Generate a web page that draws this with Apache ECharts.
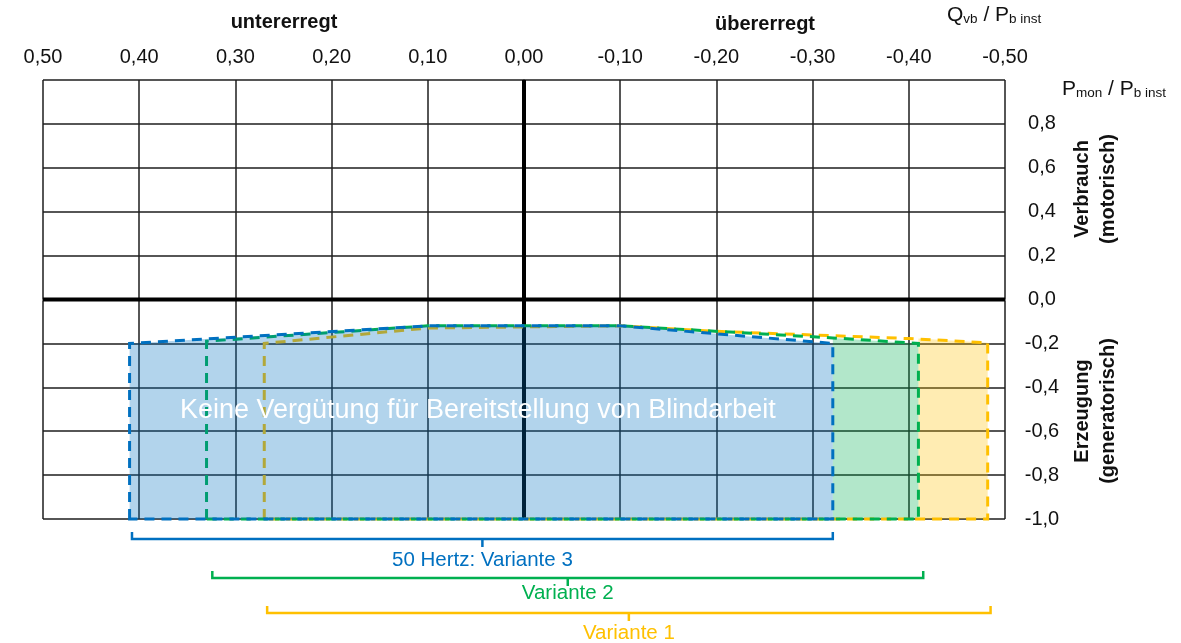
<!DOCTYPE html>
<html>
<head>
<meta charset="utf-8">
<script src="https://cdn.jsdelivr.net/npm/echarts@6/dist/echarts.min.js"></script>
<style>
html,body{margin:0;padding:0;background:#fff;}
#chart{width:1181px;height:643px;}
</style>
</head>
<body>
<div id="chart"></div>
<script>
// ---- data ----
const xTickLabels = ['0,50','0,40','0,30','0,20','0,10','0,00','-0,10','-0,20','-0,30','-0,40','-0,50'];
const yTickLabels = ['-1,0','-0,8','-0,6','-0,4','-0,2','0,0','0,2','0,4','0,6','0,8',''];

// outlines [Q, P]
const variante3 = [[0.41,-1],[0.41,-0.2],[0.10,-0.12],[-0.10,-0.12],[-0.321,-0.2],[-0.321,-1]];
const variante2 = [[0.33,-1],[0.33,-0.19],[0.10,-0.12],[-0.10,-0.12],[-0.321,-0.175],[-0.41,-0.2],[-0.41,-1]];
const variante1 = [[0.27,-1],[0.27,-0.2],[0.10,-0.13],[-0.10,-0.12],[-0.20,-0.145],[-0.32,-0.165],[-0.40,-0.178],[-0.482,-0.197],[-0.482,-1]];
// visible fill parts outside Variante 3
const variante2Fill = [[-0.321,-1],[-0.321,-0.175],[-0.41,-0.2],[-0.41,-1]];
const variante1Fill = [[-0.41,-1],[-0.41,-0.178],[-0.482,-0.197],[-0.482,-1]];

// bracket ranges [left Q, right Q]
const rangeNames = ['50 Hertz: Variante 3','Variante 2','Variante 1'];
const rangeValues = [[0.4075,-0.321],[0.324,-0.415],[0.267,-0.485]];

const areaText = 'Keine Vergütung für Bereitstellung von Blindarbeit';

// ---- styles ----
const FONT = 'Liberation Sans, Arial, sans-serif';
const C3 = '#0070C0', C2 = '#00B050', C1 = '#FFC000';
const rangeColors = [C3, C2, C1];
const bracketOffset = [20, 59, 94];   // px below bottom of plot
const labelOffset = [21, 15, 20];     // px below bracket line

function polySeries(points, style) {
  return {
    type: 'custom',
    coordinateSystem: 'cartesian2d',
    clip: false,
    silent: true,
    data: [[0, 0]],
    renderItem: function (params, api) {
      return {
        type: 'polygon',
        shape: { points: points.map(p => api.coord(p)) },
        style: style
      };
    }
  };
}

const dash = [10, 7];
const subRich = {
  m: { fontSize: 21, fontFamily: FONT, fill: '#111', color: '#111', lineHeight: 26, verticalAlign: 'bottom' },
  s: { fontSize: 13.5, fontFamily: FONT, fill: '#111', color: '#111', lineHeight: 14, verticalAlign: 'bottom' }
};

const option = {
  animation: false,
  backgroundColor: '#fff',
  grid: { left: 43, right: 176, top: 80, bottom: 124, containLabel: false },
  xAxis: {
    type: 'value', position: 'top', inverse: true,
    min: -0.5, max: 0.5, interval: 0.1,
    axisLine: { show: true, lineStyle: { color: '#bbbbbb', width: 1.5 } },
    axisTick: { show: false },
    splitLine: { show: true, lineStyle: { color: '#1e1e1e', width: 1.5 } },
    axisLabel: {
      margin: 13, fontSize: 20, color: '#111', fontFamily: FONT,
      formatter: v => xTickLabels[Math.round((0.5 - v) / 0.1)]
    }
  },
  yAxis: {
    type: 'value', position: 'right',
    min: -1, max: 1, interval: 0.2,
    axisLine: { show: true, lineStyle: { color: '#1e1e1e', width: 1.5 } },
    axisTick: { show: false },
    splitLine: { show: true, lineStyle: { color: '#1e1e1e', width: 1.5 } },
    axisLabel: {
      margin: 37, align: 'center', fontSize: 20, color: '#111', fontFamily: FONT,
      padding: [5, 0, 0, 0],
      formatter: v => yTickLabels[Math.round((v + 1) / 0.2)]
    }
  },
  series: [
    // thick zero lines
    {
      type: 'custom', coordinateSystem: 'cartesian2d', clip: false, silent: true,
      data: [[0, 0]],
      renderItem: function (params, api) {
        const a = api.coord([0, 1]), b = api.coord([0, -1]);
        const c = api.coord([0.5, 0]), d = api.coord([-0.5, 0]);
        return {
          type: 'group', children: [
            { type: 'line', shape: { x1: a[0], y1: a[1], x2: b[0], y2: b[1] }, style: { stroke: '#000', lineWidth: 4 } },
            { type: 'line', shape: { x1: c[0], y1: c[1], x2: d[0], y2: d[1] }, style: { stroke: '#000', lineWidth: 4 } }
          ]
        };
      }
    },
    polySeries(variante1Fill, { fill: 'rgba(255,192,0,0.3)', stroke: null }),
    polySeries(variante2Fill, { fill: 'rgba(0,176,80,0.3)', stroke: null }),
    polySeries(variante1, { fill: null, stroke: C1, lineWidth: 3, lineDash: dash }),
    polySeries(variante2, { fill: null, stroke: C2, lineWidth: 3, lineDash: dash }),
    polySeries(variante3, { fill: 'rgba(0,112,192,0.3)', stroke: C3, lineWidth: 3, lineDash: dash }),
    // area text
    {
      type: 'custom', coordinateSystem: 'cartesian2d', clip: false, silent: true,
      data: [[0, 0]],
      renderItem: function (params, api) {
        const p = api.coord([0.048, -0.506]);
        return {
          type: 'text',
          style: { x: p[0], y: p[1], text: areaText, fill: '#fff', font: '27px ' + FONT, textAlign: 'center', textVerticalAlign: 'middle', align: 'center', verticalAlign: 'middle' }
        };
      }
    },
    // brackets
    {
      type: 'custom', coordinateSystem: 'cartesian2d', clip: false, silent: true,
      data: rangeValues.map((r, i) => [r[0], r[1], i]),
      renderItem: function (params, api) {
        const i = params.dataIndex;
        const r = rangeValues[i];
        const L = api.coord([r[0], -1]), R = api.coord([r[1], -1]);
        const M = api.coord([(r[0] + r[1]) / 2, -1]);
        const y = L[1] + bracketOffset[i];
        const col = rangeColors[i];
        return {
          type: 'group', children: [
            { type: 'polyline', shape: { points: [[L[0], y - 7], [L[0], y], [R[0], y], [R[0], y - 7]] }, style: { stroke: col, lineWidth: 2.5, fill: null } },
            { type: 'line', shape: { x1: M[0], y1: y, x2: M[0], y2: y + 8 }, style: { stroke: col, lineWidth: 2.5 } },
            { type: 'text', style: { x: M[0], y: y + labelOffset[i], text: rangeNames[i], fill: col, font: '20.5px ' + FONT, textAlign: 'center', textVerticalAlign: 'middle', align: 'center', verticalAlign: 'middle' } }
          ]
        };
      }
    }
  ],
  graphic: [
    { type: 'text', x: 284, y: 22, style: { text: 'untererregt', font: 'bold 20px ' + FONT, fill: '#111', align: 'center', verticalAlign: 'middle', textAlign: 'center', textVerticalAlign: 'middle' } },
    { type: 'text', x: 765, y: 24, style: { text: 'übererregt', font: 'bold 20px ' + FONT, fill: '#111', align: 'center', verticalAlign: 'middle', textAlign: 'center', textVerticalAlign: 'middle' } },
    { type: 'text', left: 947, top: 5, style: { text: '{m|Q}{s|vb}{m| / P}{s|b inst}', rich: subRich } },
    { type: 'text', left: 1062, top: 79, style: { text: '{m|P}{s|mon}{m| / P}{s|b inst}', rich: subRich } },
    { type: 'text', x: 1095, y: 189, rotation: Math.PI / 2, style: { text: 'Verbrauch\n(motorisch)', font: 'bold 20px ' + FONT, fill: '#111', align: 'center', verticalAlign: 'middle', textAlign: 'center', textVerticalAlign: 'middle', lineHeight: 26 } },
    { type: 'text', x: 1095, y: 411, rotation: Math.PI / 2, style: { text: 'Erzeugung\n(generatorisch)', font: 'bold 20px ' + FONT, fill: '#111', align: 'center', verticalAlign: 'middle', textAlign: 'center', textVerticalAlign: 'middle', lineHeight: 26 } }
  ]
};

const chart = echarts.init(document.getElementById('chart'), null, { renderer: 'canvas' });
chart.setOption(option);
</script>
</body>
</html>
